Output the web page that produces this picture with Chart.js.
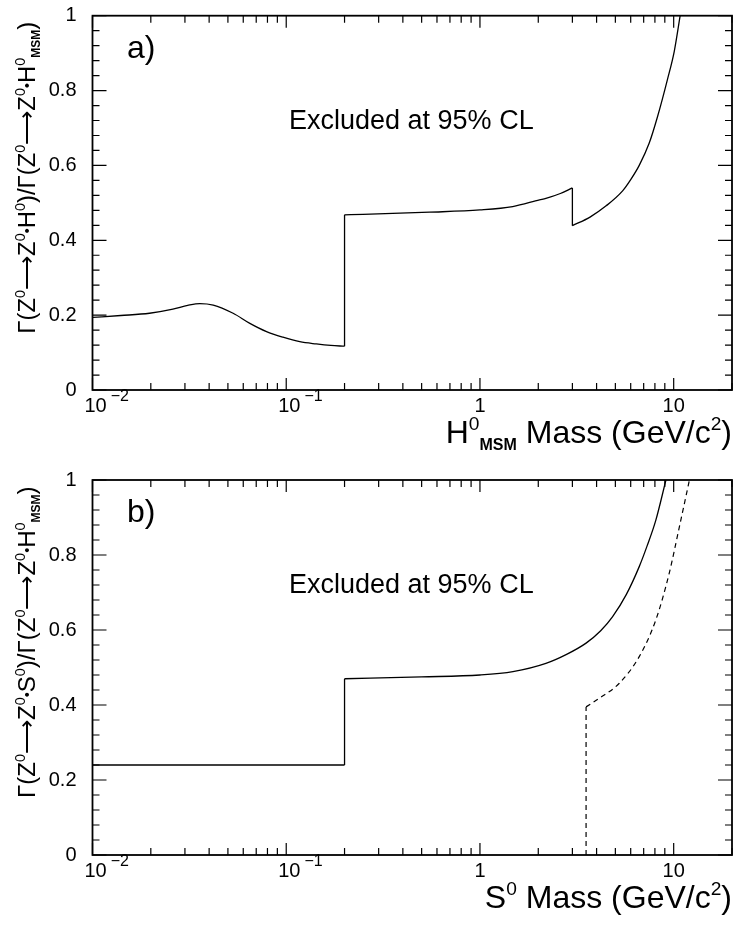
<!DOCTYPE html>
<html>
<head>
<meta charset="utf-8">
<script src="https://cdn.jsdelivr.net/npm/chart.js@4"></script>
<style>
  body { margin: 0; background: #fff; }
  .panel { position: absolute; left: 0; }
</style>
</head>
<body>
<div class="panel" style="top:0"><canvas id="chartA" width="736" height="463"></canvas></div>
<div class="panel" style="top:463px"><canvas id="chartB" width="736" height="464"></canvas></div>
<script>
// panel a) : H0_MSM mass vs width ratio (solid curve), a repeated mass is a vertical jump
const massA = [0.01, 0.014, 0.0197, 0.026, 0.031, 0.0358, 0.042, 0.0532, 0.0649, 0.0791, 0.0962, 0.1175, 0.143, 0.17, 0.2,
  0.2, 0.249, 0.55, 1.0, 1.476, 2.03, 2.19, 2.6, 3.0,
  3.0, 3.7, 4.48, 5.45, 6.0, 6.64, 7.47, 8.25, 9.29, 10.07, 10.8]
const ratioA = [0.194, 0.199, 0.205, 0.216, 0.226, 0.231, 0.227, 0.205, 0.178, 0.156, 0.141, 0.129, 0.123, 0.119, 0.117,
  0.468, 0.469, 0.475, 0.481, 0.490, 0.508, 0.512, 0.525, 0.540,
  0.439, 0.462, 0.492, 0.532, 0.562, 0.600, 0.659, 0.730, 0.830, 0.905, 1.0]

// panel b) : S0 mass, solid and dashed limits
const massB = [0.01, 0.2, 0.2, 0.5, 1.0, 1.48, 2.19, 2.8, 3.53, 4.2, 4.83, 5.7, 6.64, 7.3, 8.09, 9.12]
const ratioB = [0.24, 0.24, 0.47, 0.475, 0.48, 0.489, 0.511, 0.535, 0.565, 0.598, 0.635, 0.695, 0.769, 0.825, 0.893, 1.0]
const massBDash = [3.53, 3.53, 4.13, 5.24, 6.64, 8.09, 9.48, 10.7, 12.06]
const ratioBDash = [0, 0.395, 0.418, 0.458, 0.529, 0.627, 0.751, 0.875, 1.0]

// axis ticks and labels
const xTickValues = [0.01, 0.1, 1, 10]
const xTickBase = ['10', '10', '1', '10']
const xTickExp = ['\u22122', '\u22121', '', '']
const yTickValues = [0, 0.2, 0.4, 0.6, 0.8, 1]
const yTickLabels = ['0', '0.2', '0.4', '0.6', '0.8', '1']

const FONT = '"Liberation Sans", Arial, sans-serif'

// rich text pieces: [text, mode]
const yTitleA = [['Γ', ''], ['(', ''], ['Z', ''], ['0', 'sup'], ['\u27F6', ''], ['Z', ''], ['0', 'sup'], ['•', 'dot'], ['H', ''], ['0', 'sup'], [')', ''],
  ['/', ''], ['Γ', ''], ['(', ''], ['Z', ''], ['0', 'sup'], ['\u27F6', ''], ['Z', ''], ['0', 'sup'], ['•', 'dot'], ['H', ''], ['0', 'sup'], ['MSM', 'subb'], [')', '']]
const yTitleB = [['Γ', ''], ['(', ''], ['Z', ''], ['0', 'sup'], ['\u27F6', ''], ['Z', ''], ['0', 'sup'], ['•', 'dot'], ['S', ''], ['0', 'sup'], [')', ''],
  ['/', ''], ['Γ', ''], ['(', ''], ['Z', ''], ['0', 'sup'], ['\u27F6', ''], ['Z', ''], ['0', 'sup'], ['•', 'dot'], ['H', ''], ['0', 'sup'], ['MSM', 'subb'], [')', '']]
const xTitleA = [['H', ''], ['0', 'sup'], ['MSM', 'subb'], [' Mass (GeV/c', ''], ['2', 'sup'], [')', '']]
const xTitleB = [['S', ''], ['0', 'sup'], [' Mass (GeV/c', ''], ['2', 'sup'], [')', '']]

function partFont(mode, size) {
  if (mode === 'sup' || mode === 'sub') return `${size * 0.6}px ${FONT}`
  if (mode === 'subb') return `bold ${size * 0.5}px ${FONT}`
  if (mode === 'dot') return `${size * 0.6}px ${FONT}`
  return `${size}px ${FONT}`
}

function partShift(mode, size) {
  if (mode === 'sup') return -size * 0.42
  if (mode === 'sub' || mode === 'subb') return size * 0.22
  if (mode === 'dot') return -size * 0.12
  return 0
}

function richWidth(ctx, parts, size) {
  let w = 0
  parts.forEach(([t, m]) => { ctx.font = partFont(m, size); w += ctx.measureText(t).width })
  return w
}

function drawRich(ctx, parts, x, y, size) {
  ctx.textAlign = 'left'
  ctx.textBaseline = 'alphabetic'
  let cx = x
  parts.forEach(([t, m]) => {
    ctx.font = partFont(m, size)
    ctx.fillText(t, cx, y + partShift(m, size))
    cx += ctx.measureText(t).width
  })
}

// frame, inward ticks on all sides and all the texts
const panelDecor = {
  id: 'panelDecor',
  afterDraw(chart, args, opts) {
    const { ctx, chartArea: a, scales: { x, y } } = chart
    ctx.save()
    ctx.strokeStyle = '#000'
    ctx.fillStyle = '#000'

    ctx.lineWidth = 1.2
    ctx.beginPath()
    for (let d = -2; d <= 1; d++) {
      for (let k = 1; k <= 9; k++) {
        const v = k * Math.pow(10, d)
        if (v > 20) break
        const px = x.getPixelForValue(v)
        const len = k === 1 ? 12 : 7
        ctx.moveTo(px, a.bottom); ctx.lineTo(px, a.bottom - len)
        ctx.moveTo(px, a.top); ctx.lineTo(px, a.top + len)
      }
    }
    for (let i = 0; i <= 25; i++) {
      const py = y.getPixelForValue(i * 0.04)
      const len = i % 5 === 0 ? 14 : 7
      ctx.moveTo(a.left, py); ctx.lineTo(a.left + len, py)
      ctx.moveTo(a.right, py); ctx.lineTo(a.right - len, py)
    }
    ctx.stroke()

    ctx.lineWidth = 1.8
    ctx.strokeRect(a.left, a.top, a.width, a.height)

    // y tick labels
    ctx.font = `20px ${FONT}`
    ctx.textAlign = 'right'
    ctx.textBaseline = 'middle'
    yTickValues.forEach((v, i) => ctx.fillText(yTickLabels[i], a.left - 16, y.getPixelForValue(v)))

    // x tick labels (powers of ten)
    xTickValues.forEach((v, i) => {
      const px = x.getPixelForValue(v)
      const base = a.bottom + 22
      ctx.font = `20px ${FONT}`
      ctx.textBaseline = 'alphabetic'
      if (xTickExp[i]) {
        const bw = ctx.measureText(xTickBase[i]).width
        ctx.textAlign = 'left'
        ctx.fillText(xTickBase[i], px - 8, base)
        ctx.font = `16px ${FONT}`
        ctx.fillText(xTickExp[i], px - 8 + bw + 4, base - 11)
      } else {
        ctx.textAlign = 'center'
        ctx.fillText(xTickBase[i], px, base)
      }
    })

    // x axis title, right aligned to the frame
    const xs = 32
    const xw = richWidth(ctx, opts.xTitle, xs)
    drawRich(ctx, opts.xTitle, a.right - xw, a.bottom + 53, xs)

    // y axis title, rotated, reading upward
    const ys = 19
    const yw = richWidth(ctx, opts.yTitle, ys)
    const yFit = ys * 312 / yw
    ctx.save()
    ctx.translate(35, a.top + 318)
    ctx.rotate(-Math.PI / 2)
    drawRich(ctx, opts.yTitle, 0, 0, yFit)
    ctx.restore()

    // panel letter and annotation
    ctx.font = `32px ${FONT}`
    ctx.textAlign = 'left'
    ctx.textBaseline = 'alphabetic'
    ctx.fillText(opts.letter, 127, a.top + 42)
    ctx.font = `27px ${FONT}`
    ctx.fillText('Excluded at 95% CL', 289, a.top + 113)
    ctx.restore()
  }
}

// cut a curve at its vertical jumps: smooth pieces plus straight jump segments
function curvePieces(xs, ys, style) {
  const sets = []
  let cur = [{ x: xs[0], y: ys[0] }]
  for (let i = 1; i < xs.length; i++) {
    const p = { x: xs[i], y: ys[i] }
    if (xs[i] === xs[i - 1]) {
      if (cur.length > 1) sets.push({ ...style, data: cur, cubicInterpolationMode: 'monotone' })
      sets.push({ ...style, data: [cur[cur.length - 1], p], tension: 0 })
      cur = [p]
    } else {
      cur.push(p)
    }
  }
  if (cur.length > 1) sets.push({ ...style, data: cur, cubicInterpolationMode: 'monotone' })
  return sets
}

function makeChart(id, datasets, padding, decor) {
  const ctx = document.getElementById(id).getContext('2d')
  return new Chart(ctx, {
    type: 'scatter',
    data: { datasets },
    options: {
      responsive: false,
      animation: false,
      devicePixelRatio: 1,
      layout: { padding },
      elements: { point: { radius: 0 } },
      scales: {
        x: { type: 'logarithmic', min: 0.01, max: 20, display: false },
        y: { type: 'linear', min: 0, max: 1, display: false },
      },
      plugins: {
        legend: { display: false },
        tooltip: { enabled: false },
        panelDecor: decor,
      },
    },
    plugins: [panelDecor],
  })
}

const solid = { showLine: true, borderColor: '#000', borderWidth: 1.3 }
const dashed = { showLine: true, borderColor: '#000', borderWidth: 1.2, borderDash: [5, 4] }

makeChart('chartA', curvePieces(massA, ratioA, solid),
  { left: 92.5, top: 15.7, right: 4, bottom: 73 }, { letter: 'a)', yTitle: yTitleA, xTitle: xTitleA })

makeChart('chartB', [...curvePieces(massB, ratioB, solid), ...curvePieces(massBDash, ratioBDash, dashed)],
  { left: 92.5, top: 17, right: 4, bottom: 72 }, { letter: 'b)', yTitle: yTitleB, xTitle: xTitleB })
</script>
</body>
</html>
